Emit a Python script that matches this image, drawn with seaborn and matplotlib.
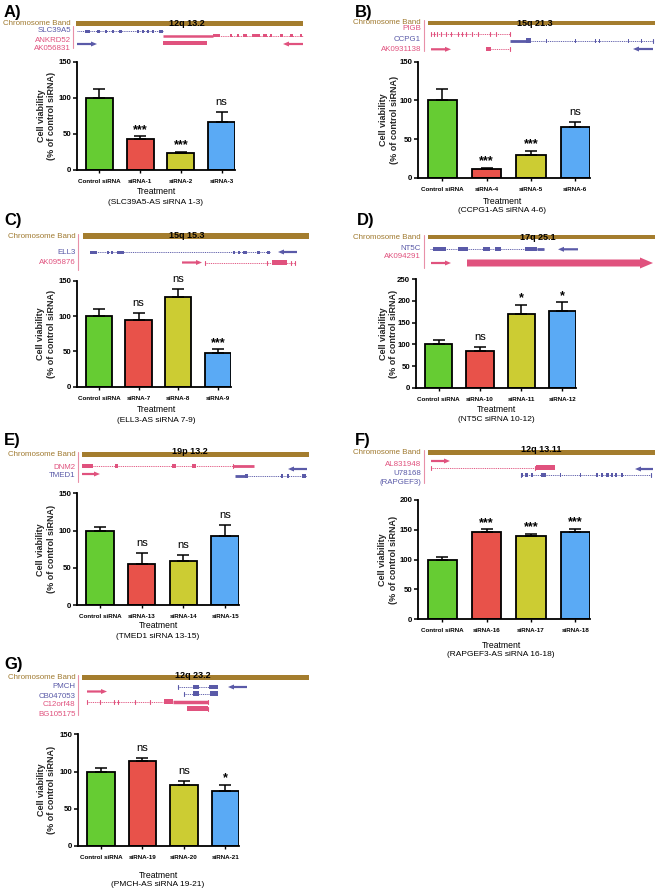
import matplotlib
matplotlib.use("Agg")
import matplotlib.pyplot as plt
import seaborn as sns
import numpy as np
import pandas as pd
from matplotlib.patches import Rectangle, FancyArrow

# ---------------- data ----------------
labels_A = ["Control siRNA", "siRNA-1", "siRNA-2", "siRNA-3"]
viab_A = [100, 43, 23, 66]
sem_A = [11.5, 4, 2.5, 14]
sig_A = ["", "***", "***", "ns"]

labels_B = ["Control siRNA", "siRNA-4", "siRNA-5", "siRNA-6"]
viab_B = [100, 11, 29, 66]
sem_B = [15, 2, 6, 6]
sig_B = ["", "***", "***", "ns"]

labels_C = ["Control siRNA", "siRNA-7", "siRNA-8", "siRNA-9"]
viab_C = [100, 95, 127, 47.5]
sem_C = [10, 9, 11, 5.5]
sig_C = ["", "ns", "ns", "***"]

labels_D = ["Control siRNA", "siRNA-10", "siRNA-11", "siRNA-12"]
viab_D = [100, 85, 170, 176]
sem_D = [9, 9, 21.5, 21]
sig_D = ["", "ns", "*", "*"]

labels_E = ["Control siRNA", "siRNA-13", "siRNA-14", "siRNA-15"]
viab_E = [100, 55, 59, 93]
sem_E = [5, 15, 8, 15]
sig_E = ["", "ns", "ns", "ns"]

labels_F = ["Control siRNA", "siRNA-16", "siRNA-17", "siRNA-18"]
viab_F = [100, 146, 139.5, 146]
sem_F = [5, 5.5, 4, 6]
sig_F = ["", "***", "***", "***"]

labels_G = ["Control siRNA", "siRNA-19", "siRNA-20", "siRNA-21"]
viab_G = [100, 114, 82, 73.5]
sem_G = [5, 4.5, 5, 9]
sig_G = ["", "ns", "ns", "*"]

subtitles = ["(SLC39A5-AS siRNA 1-3)", "(CCPG1-AS siRNA 4-6)", "(ELL3-AS siRNA 7-9)",
             "(NT5C siRNA 10-12)", "(TMED1 siRNA 13-15)", "(RAPGEF3-AS siRNA 16-18)",
             "(PMCH-AS siRNA 19-21)"]
bands = ["12q 13.2", "15q 21.3", "15q 15.3", "17q 25.1", "19p 13.2", "12q 13.11", "12q 23.2"]

# ---------------- style ----------------
sns.set_theme(style="ticks")
plt.rcParams["font.family"] = ["Liberation Sans", "DejaVu Sans"]

BAR_COLORS = ["#66cc33", "#e8524a", "#cccc33", "#5aaaf5"]
COL = {"B": "#5a5aa8", "P": "#e0527e"}
BAND_C = "#a47d2e"
BAND_TXT = "#a07a30"
VLINE_C = "#e890a8"

W, H = 658, 893
fig = plt.figure(figsize=(W / 100, H / 100), dpi=100, facecolor="white")
ov = fig.add_axes([0, 0, 1, 1])
ov.set_xlim(0, W)
ov.set_ylim(H, 0)
ov.axis("off")


def px_axes(left, top, right, bottom):
    return fig.add_axes([left / W, 1 - bottom / H, (right - left) / W, (bottom - top) / H])


# ---------------- gene tracks ----------------
def draw_track(items):
    for it in items:
        k, c, y = it[0], COL[it[1]], it[2]
        if k == "i":
            ov.plot([it[3], it[4]], [y, y], color=c, lw=0.7, ls=(0, (1.0, 0.9)))
        elif k == "l":
            ov.plot([it[3], it[4]], [y, y], color=c, lw=it[5], solid_capstyle="butt")
        elif k == "e":
            h = it[4]
            for x0, x1 in it[3]:
                ov.add_patch(Rectangle((x0, y - h / 2), x1 - x0, h, color=c, lw=0))
        elif k == "t":
            for x in it[3]:
                ov.plot([x, x], [y - 2, y + 2], color=c, lw=0.8)
        elif k == "a":
            x0, x1 = it[3], it[4]
            w = it[5] if len(it) > 5 else 2.2
            hw = it[6] if len(it) > 6 else 5
            hl = it[7] if len(it) > 7 else 6
            ov.add_patch(FancyArrow(x0, y, x1 - x0, 0, width=w, head_width=hw, head_length=hl,
                                    length_includes_head=True, color=c, lw=0))


def draw_header(band, text_y, label_x, vline, genes):
    x0, x1, yt, yb, txt, tx = band
    ov.add_patch(Rectangle((x0, yt), x1 - x0, yb - yt, color=BAND_C, lw=0))
    ov.text(tx, text_y, txt, ha="center", va="center", fontsize=6.5, fontweight="bold", color="black")
    ov.text(label_x, (yt + yb) / 2, "Chromosome Band", ha="right", va="center", fontsize=5.7, color=BAND_TXT)
    vx, v0, v1 = vline
    ov.plot([vx, vx], [v0, v1], color=VLINE_C, lw=0.8)
    for name, c, gy in genes:
        ov.text(label_x, gy, name, ha="right", va="center", fontsize=5.7, color=COL[c])


track_A = [
    ("i", "B", 31, 77, 163),
    ("e", "B", 31, [(85, 90), (97, 100), (105, 107), (112, 114), (119, 122), (137, 139), (142, 144),
                    (147, 149), (152, 154), (159, 163)], 3),
    ("l", "P", 35.5, 163, 213, 1.8),
    ("i", "P", 35.5, 213, 303),
    ("e", "P", 35.5, [(213, 220), (230, 232), (237, 239), (243, 247), (252, 260), (263, 267), (270, 272),
                      (280, 283), (290, 293), (300, 302)], 3),
    ("a", "B", 44, 77, 97),
    ("e", "P", 43, [(163, 207)], 4),
    ("a", "P", 44, 303, 283),
]
track_B = [
    ("i", "P", 34, 431, 510),
    ("t", "P", 34, [431, 434, 437, 441, 446, 451, 458, 462, 466, 472, 478, 490, 496, 510]),
    ("l", "B", 40.7, 510, 526, 2),
    ("e", "B", 40.7, [(526, 531)], 5),
    ("i", "B", 40.7, 531, 653),
    ("e", "B", 40.7, [(545.5, 547), (574.5, 576), (594.5, 596), (598.5, 600), (627.5, 629), (640.5, 642)], 4),
    ("t", "B", 40.7, [653]),
    ("a", "P", 49.3, 431, 451),
    ("e", "P", 49.3, [(486, 491)], 4),
    ("i", "P", 49.3, 491, 510),
    ("t", "P", 49.3, [510]),
    ("a", "B", 49, 653, 633),
]
track_C = [
    ("i", "B", 252.3, 90, 270),
    ("e", "B", 252.3, [(90, 97), (107, 109), (111, 113), (117, 124), (233, 235), (238, 240), (243, 247),
                       (257, 260), (267, 270)], 3.5),
    ("a", "B", 252, 297, 278),
    ("a", "P", 262.5, 182, 202),
    ("i", "P", 262.5, 205, 295),
    ("t", "P", 262.5, [205, 267, 295, 291]),
    ("e", "P", 262.5, [(272, 287)], 5),
]
track_D = [
    ("i", "B", 249.3, 430, 544),
    ("e", "B", 249.3, [(433, 446), (458, 468), (483, 490), (495, 501), (525, 537)], 4),
    ("l", "B", 249.3, 537, 544, 2),
    ("a", "B", 249.3, 578, 558),
    ("a", "P", 263, 431, 451),
    ("a", "P", 263, 467, 653, 7, 11, 13),
]
track_E = [
    ("e", "P", 466, [(82, 93)], 4.5),
    ("i", "P", 466, 93, 233),
    ("e", "P", 466, [(115, 118), (172, 176), (192, 196)], 4),
    ("t", "P", 466, [233]),
    ("l", "P", 466, 233, 254, 2),
    ("a", "P", 474, 82, 100),
    ("a", "B", 469, 307, 288),
    ("l", "B", 476, 235, 245, 2),
    ("e", "B", 476, [(245, 248), (281, 283), (287, 289), (302, 306)], 4),
    ("i", "B", 476, 248, 307),
]
track_F = [
    ("a", "P", 461, 431, 450),
    ("t", "P", 467.7, [431]),
    ("i", "P", 467.7, 431, 536),
    ("e", "P", 467.7, [(536, 555)], 5),
    ("t", "P", 467.7, [535]),
    ("a", "B", 469, 653, 635),
    ("i", "B", 475, 521, 651),
    ("e", "B", 475, [(521, 523), (525, 528), (531, 533), (541, 546), (560, 561), (580, 581), (596, 598),
                     (601, 603), (606, 609), (611, 613), (615, 617), (621, 623)], 3.5),
    ("t", "B", 475, [521, 651]),
]
track_G = [
    ("t", "B", 687, [178]),
    ("i", "B", 687, 178, 209),
    ("e", "B", 687, [(193, 199)], 4),
    ("e", "B", 687, [(209, 218)], 4),
    ("a", "B", 687, 247, 228),
    ("a", "P", 691.5, 87, 107),
    ("t", "B", 693.5, [184]),
    ("i", "B", 693.5, 184, 210),
    ("e", "B", 693.5, [(193, 199), (210, 218)], 4.5),
    ("i", "P", 701.5, 87, 163),
    ("t", "P", 701.5, [87, 100, 114, 118, 135, 150]),
    ("e", "P", 701.5, [(164, 173)], 5),
    ("l", "P", 701.5, 173, 208, 2.5),
    ("t", "P", 701.5, [208]),
    ("e", "P", 708.5, [(187, 208)], 5),
    ("t", "P", 708.5, [208]),
]

headers = [
    ((76, 303, 21, 26, bands[0], 187), 23.3, 71, (73, 26, 48),
     [("SLC39A5", "B", 31), ("ANKRD52", "P", 40), ("AK056831", "P", 49)]),
    ((428, 655, 20.7, 25, bands[1], 535), 23, 421, (424, 20, 51),
     [("PIGB", "P", 29), ("CCPG1", "B", 39.5), ("AK0931138", "P", 49.3)]),
    ((83, 309, 233.3, 239, bands[2], 187), 236, 75.7, (78.3, 234, 270),
     [("ELL3", "B", 252.3), ("AK095876", "P", 262)]),
    ((428, 655, 235, 239.3, bands[3], 538), 237, 421, (424, 235, 268),
     [("NT5C", "B", 249), ("AK094291", "P", 257)]),
    ((82, 309, 451.7, 456.7, bands[4], 190), 451, 75.7, (78.3, 452, 482),
     [("DNM2", "P", 467.3), ("TMED1", "B", 475.7)]),
    ((428, 655, 450, 455, bands[5], 541), 450, 421, (424, 450, 483),
     [("AL831948", "P", 464), ("U78168", "B", 473.3), ("(RAPGEF3)", "B", 482.3)]),
    ((82, 309, 675, 680, bands[6], 193), 675.5, 75.7, (78.3, 675, 715),
     [("PMCH", "B", 687), ("CB047053", "B", 696), ("C12orf48", "P", 705), ("BG105175", "P", 714)]),
]
tracks = [track_A, track_B, track_C, track_D, track_E, track_F, track_G]
for hd, tr in zip(headers, tracks):
    draw_header(*hd)
    draw_track(tr)

# panel letters
for letter, x, y in [("A)", 4, 13), ("B)", 355, 12), ("C)", 4, 220), ("D)", 357, 221),
                     ("E)", 4, 440), ("F)", 355, 440), ("G)", 4, 665)]:
    ov.text(x, y, letter, ha="left", va="center", fontsize=12, fontweight="bold", color="black")

# ---------------- bar panels ----------------
bar_sets = [
    (labels_A, viab_A, sem_A, sig_A, 150),
    (labels_B, viab_B, sem_B, sig_B, 150),
    (labels_C, viab_C, sem_C, sig_C, 150),
    (labels_D, viab_D, sem_D, sig_D, 250),
    (labels_E, viab_E, sem_E, sig_E, 150),
    (labels_F, viab_F, sem_F, sig_F, 200),
    (labels_G, viab_G, sem_G, sig_G, 150),
]
# axes box (left, top, right, bottom), ylabel x, xlabel centre x, Treatment y, subtitle y
layout = [
    ((77, 61.7, 235, 170), 46.5, 156, 192, 202),
    ((418, 61.7, 590, 177.7), 389, 502, 201, 210.7),
    ((77, 280.7, 231, 386.7), 46, 156, 410, 420),
    ((416, 279.3, 576, 387.7), 388.5, 496, 410, 419.3),
    ((77, 493.3, 239, 605.3), 46, 158, 626, 636),
    ((418, 500, 590, 619.3), 388, 501, 645, 654),
    ((78, 734.3, 239, 846), 46.7, 158, 875, 884),
]

for (cats, vals, errs, sig, ymax), (box, ylx, xlx, ty, sy), sub in zip(bar_sets, layout, subtitles):
    ax = px_axes(*box)
    df = pd.DataFrame({"Treatment": cats, "Viability": vals})
    sns.barplot(data=df, x="Treatment", y="Viability", hue="Treatment", palette=BAR_COLORS,
                legend=False, width=0.66, edgecolor="black", linewidth=1.3, saturation=1, ax=ax)
    xs = np.arange(len(cats))
    ax.errorbar(xs, vals, yerr=[np.zeros(len(cats)), errs], fmt="none", ecolor="black",
                elinewidth=1.1, capsize=4.5, capthick=1.1, zorder=3)
    ax.set_xlim(-0.55, len(cats) - 1 + 0.33)
    ax.set_ylim(0, ymax)
    ax.set_yticks(np.arange(0, ymax + 1, 50))
    ax.set_xlabel("")
    ax.set_ylabel("")
    ax.set_facecolor("none")
    sns.despine(ax=ax)
    for s in ["left", "bottom"]:
        ax.spines[s].set_linewidth(1.3)
        ax.spines[s].set_color("black")
    ax.tick_params(axis="y", labelsize=5.6, length=3, width=1.1, pad=1.2, colors="black")
    ax.tick_params(axis="x", labelsize=4.5, length=2.5, width=1.0, pad=4, colors="black")
    for lab in ax.get_yticklabels() + ax.get_xticklabels():
        lab.set_fontweight("bold")
    for i, s in enumerate(sig):
        if not s:
            continue
        top = vals[i] + errs[i]
        if s == "ns":
            ax.annotate(s, (i, top), xytext=(0, 5), textcoords="offset points", ha="center",
                        va="baseline", fontsize=8, color="black", annotation_clip=False)
        else:
            ax.annotate(s, (i, top), xytext=(0, 2.2), textcoords="offset points", ha="center",
                        va="baseline", fontsize=9, fontweight="bold", color="black",
                        annotation_clip=False)
    ov.text(ylx, (box[1] + box[3]) / 2, "Cell viability\n(% of control siRNA)", rotation=90,
            ha="center", va="center", fontsize=6.5, fontweight="bold", linespacing=1.15,
            multialignment="center")
    ov.text(xlx, ty, "Treatment", ha="center", va="center", fontsize=6.2, color="black")
    ov.text(xlx, sy, sub, ha="center", va="center", fontsize=6.0, color="black")

fig.savefig("out.png", dpi=100, facecolor="white")
